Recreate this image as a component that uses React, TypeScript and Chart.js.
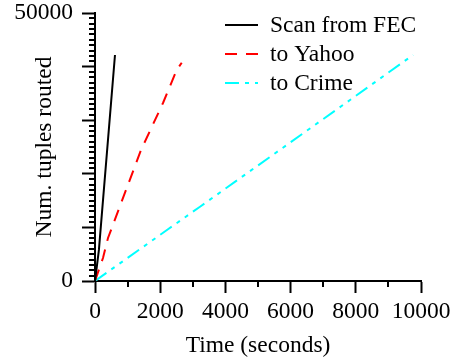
import React, { useEffect, useRef } from "react";
import { Chart, registerables } from "chart.js";

Chart.register(...registerables);

const FONT = "'Liberation Serif', 'Times New Roman', serif";
const FS = 23.5;

const seriesNames = ["Scan from FEC", "to Yahoo", "to Crime"];
const seriesColors = ["#000000", "#ff0000", "#00ffff"];
const seriesDash = [[], [12, 9], [14, 6, 4, 6, 4, 6]];

const fecTime = [0, 120, 613];
const fecTuples = [0, 5800, 42164];

const yahooTime = [0, 245, 399, 1411, 2086, 2506, 2660];
const yahooTuples = [0, 4291, 8022, 24440, 33209, 39366, 40727];

const crimeTime = [0, 2239, 3221, 7822, 9755];
const crimeTuples = [0, 9646, 13862, 33769, 42164];

const xTicks = [0, 2000, 4000, 6000, 8000, 10000];
const yLabelled = [0, 50000];

const toPts = (xs: number[], ys: number[]) => xs.map((x, i) => ({ x, y: ys[i] }));

const extraTicks = {
  id: "extraTicks",
  afterDraw(chart: any) {
    const { ctx, chartArea, scales } = chart;
    const xs = scales.x;
    const ys = scales.y;
    ctx.save();
    ctx.strokeStyle = "#000";
    ctx.lineWidth = 2;
    ctx.setLineDash([]);
    ctx.beginPath();
    for (let v = 1000; v < 50000; v += 1000) {
      if (v % 10000 === 0) continue;
      const py = Math.round(ys.getPixelForValue(v));
      ctx.moveTo(chartArea.left - 6, py);
      ctx.lineTo(chartArea.left, py);
    }
    for (let v = 1000; v < 10000; v += 2000) {
      const px = Math.round(xs.getPixelForValue(v));
      ctx.moveTo(px, chartArea.bottom);
      ctx.lineTo(px, chartArea.bottom + 6);
    }
    ctx.stroke();

    // legend
    ctx.font = `${FS}px ${FONT}`;
    ctx.textBaseline = "middle";
    ctx.textAlign = "left";
    ctx.fillStyle = "#000";
    seriesNames.forEach((name, i) => {
      const yy = 25 + i * 29;
      ctx.strokeStyle = seriesColors[i];
      ctx.lineWidth = 2;
      ctx.setLineDash(seriesDash[i]);
      ctx.beginPath();
      ctx.moveTo(225, yy);
      ctx.lineTo(258, yy);
      ctx.stroke();
      ctx.setLineDash([]);
      ctx.fillText(name, 270, yy + 1);
    });
    ctx.restore();
  },
};

export default function App() {
  const ref = useRef<HTMLCanvasElement>(null);
  useEffect(() => {
    if (!ref.current) return;
    const mk = (i: number, xs: number[], ys: number[]) => ({
      label: seriesNames[i],
      data: toPts(xs, ys),
      borderColor: seriesColors[i],
      backgroundColor: seriesColors[i],
      borderDash: seriesDash[i],
      borderWidth: 2,
      pointRadius: 0,
      tension: 0,
      fill: false,
    });
    const chart = new Chart(ref.current, {
      type: "line",
      data: {
        datasets: [
          mk(0, fecTime, fecTuples),
          mk(1, yahooTime, yahooTuples),
          mk(2, crimeTime, crimeTuples),
        ],
      },
      options: {
        animation: false,
        responsive: false,
        layout: { padding: { left: 0, top: 13, right: 34, bottom: 0 } },
        plugins: { legend: { display: false }, tooltip: { enabled: false } },
        scales: {
          x: {
            type: "linear",
            min: 0,
            max: 10000,
            afterBuildTicks: (s: any) => {
              s.ticks = xTicks.map((v) => ({ value: v }));
            },
            afterFit: (s: any) => {
              s.height = 80;
              s.paddingLeft = 0;
              s.paddingRight = 0;
            },
            ticks: {
              font: { family: FONT, size: FS },
              color: "#000",
              padding: 5,
              maxRotation: 0,
              autoSkip: false,
              callback: (v: any) => String(v),
            },
            grid: {
              display: true,
              drawOnChartArea: false,
              drawTicks: true,
              tickLength: 12,
              tickColor: "#000",
              tickWidth: 2,
              color: "#000",
            },
            border: { display: true, color: "#000", width: 2 },
            title: {
              display: true,
              text: "Time (seconds)",
              font: { family: FONT, size: FS },
              color: "#000",
              padding: { top: 0, bottom: 1 },
            },
          },
          y: {
            type: "linear",
            min: 0,
            max: 50000,
            afterBuildTicks: (s: any) => {
              const t: any[] = [];
              for (let v = 0; v <= 50000; v += 10000) t.push({ value: v });
              s.ticks = t;
            },
            afterFit: (s: any) => {
              s.width = 95;
              s.paddingTop = 0;
              s.paddingBottom = 0;
            },
            ticks: {
              font: { family: FONT, size: FS },
              color: "#000",
              padding: 9,
              autoSkip: false,
              callback: (v: any) => (yLabelled.includes(Number(v)) ? String(v) : ""),
            },
            grid: {
              display: true,
              drawOnChartArea: false,
              drawTicks: true,
              tickLength: 13,
              tickColor: "#000",
              tickWidth: 2,
              color: "#000",
            },
            border: { display: true, color: "#000", width: 2 },
            title: {
              display: true,
              text: "Num. tuples routed",
              font: { family: FONT, size: FS },
              color: "#000",
              padding: { top: 31, bottom: 0 },
            },
          },
        },
      },
      plugins: [extraTicks],
    } as any);
    return () => chart.destroy();
  }, []);
  return (
    <div style={{ position: "absolute", left: 0, top: 0, width: 455, height: 361 }}>
      <canvas ref={ref} width={455} height={361} />
    </div>
  );
}
